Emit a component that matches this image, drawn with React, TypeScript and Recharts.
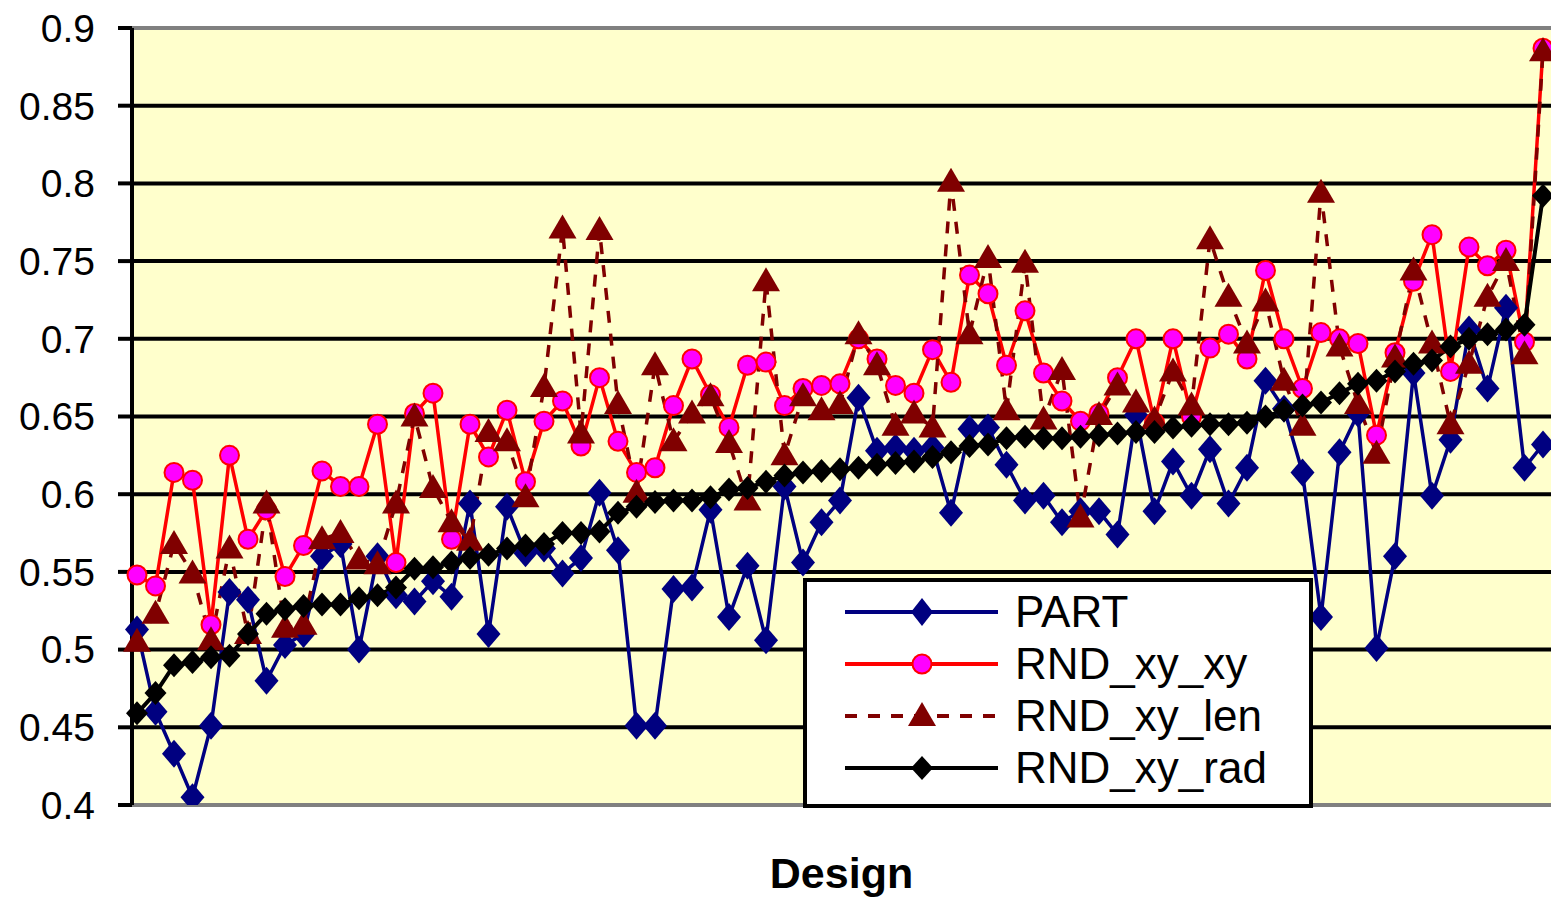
import React from "react";
import {
  LineChart,
  Line,
  XAxis,
  YAxis,
  CartesianGrid,
  ReferenceLine,
} from "recharts";

const designs = Array.from({ length: 77 }, (_, i) => i + 1);

const part = [
  0.513, 0.46, 0.433, 0.405, 0.451, 0.537, 0.532, 0.48, 0.503, 0.51,
  0.56, 0.568, 0.5, 0.56, 0.535, 0.531, 0.544, 0.534, 0.594, 0.51,
  0.592, 0.562, 0.565, 0.549, 0.559, 0.601, 0.564, 0.451, 0.451, 0.539,
  0.54, 0.59, 0.521, 0.554, 0.506, 0.605, 0.556, 0.582, 0.596, 0.662,
  0.628, 0.63, 0.628, 0.63, 0.588, 0.642, 0.643, 0.619, 0.596, 0.599,
  0.582, 0.589, 0.589, 0.574, 0.651, 0.589, 0.621, 0.599, 0.629, 0.594,
  0.617, 0.673, 0.655, 0.614, 0.521, 0.627, 0.652, 0.501, 0.56, 0.678,
  0.599, 0.635, 0.706, 0.668, 0.72, 0.617, 0.632,
];

const rndXyXy = [
  0.548, 0.541, 0.614, 0.609, 0.516, 0.625, 0.571, 0.59, 0.547, 0.567,
  0.615, 0.605, 0.605, 0.645, 0.556, 0.652, 0.665, 0.571, 0.645, 0.624,
  0.654, 0.608, 0.647, 0.66, 0.631, 0.675, 0.634, 0.614, 0.617, 0.657,
  0.687, 0.664, 0.643, 0.683, 0.685, 0.657, 0.668, 0.67, 0.671, 0.7,
  0.687, 0.67, 0.665, 0.693, 0.672, 0.741, 0.729, 0.683, 0.718, 0.678,
  0.66, 0.647, 0.652, 0.675, 0.7, 0.646, 0.7, 0.65, 0.694, 0.703,
  0.687, 0.744, 0.7, 0.668, 0.704, 0.7, 0.697, 0.638, 0.691, 0.737,
  0.767, 0.679, 0.759, 0.747, 0.757, 0.698, 0.887,
];

const rndXyLen = [
  0.505, 0.523, 0.568, 0.549, 0.506, 0.565, 0.51, 0.594, 0.514, 0.516,
  0.571, 0.575, 0.558, 0.555, 0.594, 0.65, 0.604, 0.582, 0.57, 0.64,
  0.634, 0.598, 0.669, 0.771, 0.639, 0.77, 0.658, 0.601, 0.683, 0.634,
  0.652, 0.663, 0.633, 0.596, 0.737, 0.625, 0.663, 0.654, 0.658, 0.703,
  0.683, 0.644, 0.652, 0.643, 0.801, 0.703, 0.752, 0.654, 0.749, 0.648,
  0.68, 0.585, 0.651, 0.67, 0.659, 0.648, 0.679, 0.657, 0.764, 0.727,
  0.697, 0.724, 0.673, 0.644, 0.794, 0.695, 0.658, 0.626, 0.688, 0.744,
  0.697, 0.645, 0.684, 0.727, 0.75, 0.69, 0.885,
];

const rndXyRad = [
  0.459, 0.472, 0.49, 0.492, 0.495, 0.496, 0.51, 0.523, 0.526, 0.528,
  0.529, 0.529, 0.533, 0.535, 0.54, 0.552, 0.553, 0.556, 0.559, 0.561,
  0.565, 0.567, 0.568, 0.575, 0.575, 0.576, 0.588, 0.592, 0.595, 0.596,
  0.596, 0.598, 0.603, 0.604, 0.608, 0.612, 0.614, 0.615, 0.616, 0.617,
  0.619, 0.62, 0.621, 0.624, 0.627, 0.631, 0.632, 0.636, 0.637, 0.636,
  0.636, 0.637, 0.638, 0.639, 0.64, 0.64, 0.643, 0.644, 0.645, 0.645,
  0.646, 0.65, 0.654, 0.657, 0.659, 0.665, 0.671, 0.673, 0.679, 0.684,
  0.686, 0.695, 0.7, 0.703, 0.706, 0.709, 0.792,
];

const yTicks = [0.4, 0.45, 0.5, 0.55, 0.6, 0.65, 0.7, 0.75, 0.8, 0.85, 0.9];

const data = designs.map((d, i) => ({
  design: d,
  PART: part[i],
  RND_xy_xy: rndXyXy[i],
  RND_xy_len: rndXyLen[i],
  RND_xy_rad: rndXyRad[i],
}));

const FONT = '"Liberation Sans", Arial, sans-serif';

// marker shapes
const diamondPath = (cx: number, cy: number, w: number, h: number) =>
  `M${cx},${cy - h / 2}L${cx + w / 2},${cy}L${cx},${cy + h / 2}L${cx - w / 2},${cy}Z`;
const trianglePath = (cx: number, cy: number) =>
  `M${cx},${cy - 14}L${cx + 14},${cy + 10}L${cx - 14},${cy + 10}Z`;

const diamondDot = (color: string, w: number, h: number) => (p: any) => {
  const { cx, cy, index } = p;
  if (cx == null || cy == null) return <g key={index} />;
  return <path key={index} d={diamondPath(cx, cy, w, h)} fill={color} />;
};

const circleDot = (p: any) => {
  const { cx, cy, index } = p;
  if (cx == null || cy == null) return <g key={index} />;
  return (
    <circle key={index} cx={cx} cy={cy} r={9.5} fill="#FF00FF" stroke="#FF0000" strokeWidth={2} />
  );
};

const triangleDot = (p: any) => {
  const { cx, cy, index } = p;
  if (cx == null || cy == null) return <g key={index} />;
  return <path key={index} d={trianglePath(cx, cy)} fill="#800000" />;
};

const legendRows = [
  { name: "PART", color: "#000080", dash: undefined, marker: "diamond" },
  { name: "RND_xy_xy", color: "#FF0000", dash: undefined, marker: "circle" },
  { name: "RND_xy_len", color: "#800000", dash: "12 11", marker: "triangle" },
  { name: "RND_xy_rad", color: "#000000", dash: undefined, marker: "blackDiamond" },
];

function LegendBox() {
  return (
    <div
      style={{
        position: "absolute",
        left: 803,
        top: 578,
        boxSizing: "border-box",
        width: 510,
        height: 230,
        background: "#fff",
        border: "4px solid #000",
        paddingTop: 4,
        fontFamily: FONT,
      }}
    >
      {legendRows.map((r) => (
        <div key={r.name} style={{ display: "flex", alignItems: "center", height: 52 }}>
          <svg width={200} height={52} style={{ flex: "none" }}>
            <line x1={38} y1={26} x2={191} y2={26} stroke={r.color} strokeWidth={4} strokeDasharray={r.dash} />
            {r.marker === "diamond" && <path d={diamondPath(115, 26, 22, 28)} fill="#000080" />}
            {r.marker === "circle" && (
              <circle cx={115} cy={26} r={9.5} fill="#FF00FF" stroke="#FF0000" strokeWidth={2} />
            )}
            {r.marker === "triangle" && <path d={trianglePath(115, 26)} fill="#800000" />}
            {r.marker === "blackDiamond" && <path d={diamondPath(115, 26, 22, 24)} fill="#000" />}
          </svg>
          <span style={{ fontSize: 44, lineHeight: "52px", color: "#000", marginLeft: 8 }}>{r.name}</span>
        </div>
      ))}
    </div>
  );
}

export default function App() {
  return (
    <div style={{ position: "absolute", left: 0, top: 0, width: 1551, height: 900, background: "#fff" }}>
      <LineChart
        width={1551}
        height={900}
        data={data}
        margin={{ top: 28, right: 0, left: 0, bottom: 0 }}
        style={{ fontFamily: FONT }}
      >
        <CartesianGrid vertical={false} fill="#FFFFCC" stroke="#000" strokeWidth={4} />
        <XAxis
          dataKey="design"
          height={95}
          tick={false}
          tickLine={false}
          axisLine={false}
          padding={{ left: 5, right: 8 }}
          label={{
            value: "Design",
            position: "insideBottom",
            offset: 12,
            style: { fontSize: 43, fontWeight: 700, fill: "#000", fontFamily: FONT },
          }}
        />
        <YAxis
          width={132}
          domain={[0.4, 0.9]}
          ticks={yTicks}
          interval={0}
          allowDataOverflow
          axisLine={{ stroke: "#000", strokeWidth: 4 }}
          tickLine={{ stroke: "#000", strokeWidth: 4 }}
          tickSize={14}
          tickMargin={23}
          tick={{ fill: "#000", fontSize: 39, fontFamily: FONT }}
          tickFormatter={(v: number) => String(v)}
        />
        <ReferenceLine y={0.9} stroke="#808080" strokeWidth={4} />
        <ReferenceLine y={0.4} stroke="#808080" strokeWidth={4} />
        <Line
          type="linear"
          dataKey="PART"
          stroke="#000080"
          strokeWidth={3.5}
          dot={diamondDot("#000080", 24, 28)}
          activeDot={false}
          isAnimationActive={false}
        />
        <Line
          type="linear"
          dataKey="RND_xy_xy"
          stroke="#FF0000"
          strokeWidth={3.5}
          dot={circleDot}
          activeDot={false}
          isAnimationActive={false}
        />
        <Line
          type="linear"
          dataKey="RND_xy_len"
          stroke="#800000"
          strokeWidth={3.5}
          strokeDasharray="12 11"
          dot={triangleDot}
          activeDot={false}
          isAnimationActive={false}
        />
        <Line
          type="linear"
          dataKey="RND_xy_rad"
          stroke="#000000"
          strokeWidth={4}
          dot={diamondDot("#000", 22, 24)}
          activeDot={false}
          isAnimationActive={false}
        />
      </LineChart>
      <LegendBox />
    </div>
  );
}
